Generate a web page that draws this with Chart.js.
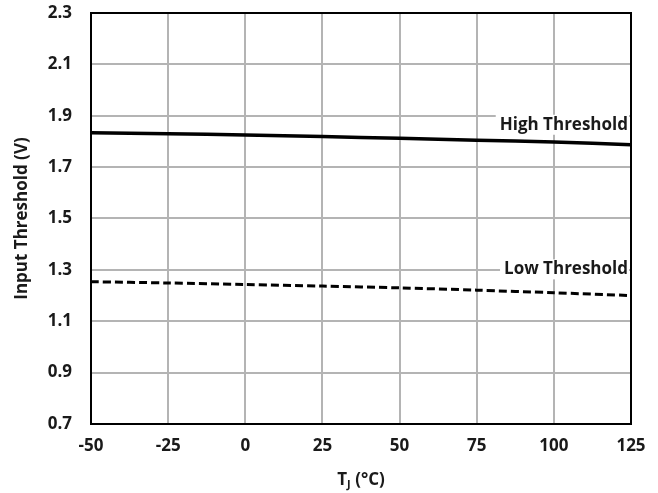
<!DOCTYPE html>
<html>
<head>
<meta charset="utf-8">
<script src="https://cdn.jsdelivr.net/npm/chart.js@4"></script>
<style>
  html, body { margin: 0; padding: 0; background: #fff; }
  #wrap { width: 658px; height: 493px; }
</style>
</head>
<body>
<div id="wrap"><canvas id="chart"></canvas></div>
<script>
// junction temperature (°C)
const temps = [-50, -25, 0, 25, 50, 75, 100, 125];
// input thresholds (V)
const highThreshold = [1.834, 1.830, 1.825, 1.819, 1.812, 1.805, 1.798, 1.787];
const lowThreshold = [1.254, 1.249, 1.243, 1.237, 1.230, 1.221, 1.211, 1.200];
const xTicks = [-50, -25, 0, 25, 50, 75, 100, 125];
const yTicks = [0.7, 0.9, 1.1, 1.3, 1.5, 1.7, 1.9, 2.1, 2.3];

const FONT = '"Open Sans", sans-serif';
const INK = '#1a1a1a';

function pts(ys) {
  return temps.map((t, i) => ({ x: t, y: ys[i] }));
}

// boxed curve labels, frame and axis titles
const decorations = {
  id: 'decorations',
  afterDatasetsDraw(chart) {
    const ctx = chart.ctx;
    const a = chart.chartArea;
    const xs = chart.scales.x, ys = chart.scales.y;

    ctx.save();
    ctx.font = 'bold 17px ' + FONT;
    ctx.textBaseline = 'middle';
    ctx.textAlign = 'right';
    [['High Threshold', 1.865], ['Low Threshold', 1.302]].forEach(([txt, v]) => {
      const x = xs.getPixelForValue(125) - 3;
      const y = ys.getPixelForValue(v);
      const w = ctx.measureText(txt).width;
      ctx.fillStyle = '#fff';
      ctx.fillRect(x - w - 4, y - 10, w + 5, 20);
      ctx.fillStyle = INK;
      ctx.fillText(txt, x, y);
    });

    // plot frame
    ctx.strokeStyle = '#000';
    ctx.lineWidth = 2;
    ctx.strokeRect(a.left, a.top, a.right - a.left, a.bottom - a.top);

    // y title
    ctx.fillStyle = INK;
    ctx.font = 'bold 17px ' + FONT;
    ctx.textAlign = 'center';
    ctx.translate(22, (a.top + a.bottom) / 2);
    ctx.rotate(-Math.PI / 2);
    ctx.fillText('Input Threshold (V)', 0, 0);
    ctx.restore();

    // x title with subscript
    ctx.save();
    ctx.fillStyle = INK;
    ctx.textBaseline = 'alphabetic';
    ctx.textAlign = 'left';
    const big = 'bold 17px ' + FONT, small = 'bold 11px ' + FONT;
    ctx.font = big; const w1 = ctx.measureText('T').width;
    const w3 = ctx.measureText(' (°C)').width;
    ctx.font = small; const w2 = ctx.measureText('J').width;
    let x0 = (a.left + a.right) / 2 - (w1 + w2 + w3) / 2;
    const yb = 485;
    ctx.font = big; ctx.fillText('T', x0, yb);
    ctx.font = small; ctx.fillText('J', x0 + w1, yb + 3);
    ctx.font = big; ctx.fillText(' (°C)', x0 + w1 + w2, yb);
    ctx.restore();
  }
};

new Chart(document.getElementById('chart'), {
  type: 'line',
  data: {
    datasets: [
      {
        label: 'High Threshold',
        data: pts(highThreshold),
        borderColor: '#000',
        borderWidth: 3.5,
        pointRadius: 0,
        tension: 0.3
      },
      {
        label: 'Low Threshold',
        data: pts(lowThreshold),
        borderColor: '#000',
        borderWidth: 3,
        borderDash: [8, 4],
        pointRadius: 0,
        tension: 0.3
      }
    ]
  },
  options: {
    responsive: true,
    maintainAspectRatio: false,
    animation: false,
    layout: { padding: { top: 13, right: 27, left: 0, bottom: 0 } },
    plugins: { legend: { display: false }, tooltip: { enabled: false } },
    scales: {
      x: {
        type: 'linear',
        min: -50,
        max: 125,
        afterBuildTicks: s => { s.ticks = xTicks.map(v => ({ value: v })); },
        afterFit: s => { s.height = 69; s.paddingLeft = 0; s.paddingRight = 0; },
        grid: { color: '#b4b4b4', lineWidth: 2, drawTicks: false },
        border: { display: false },
        ticks: {
          padding: 12,
          color: INK,
          font: { family: FONT, size: 17, weight: 'bold' },
          maxRotation: 0,
          callback: v => v
        }
      },
      y: {
        type: 'linear',
        min: 0.7,
        max: 2.3,
        afterBuildTicks: s => { s.ticks = yTicks.map(v => ({ value: v })); },
        afterFit: s => { s.width = 91; s.paddingTop = 0; s.paddingBottom = 0; },
        grid: { color: '#b4b4b4', lineWidth: 2, drawTicks: false },
        border: { display: false },
        ticks: {
          padding: 19,
          color: INK,
          font: { family: FONT, size: 17, weight: 'bold' },
          callback: v => v.toFixed(1)
        }
      }
    }
  },
  plugins: [decorations]
});
</script>
</body>
</html>
